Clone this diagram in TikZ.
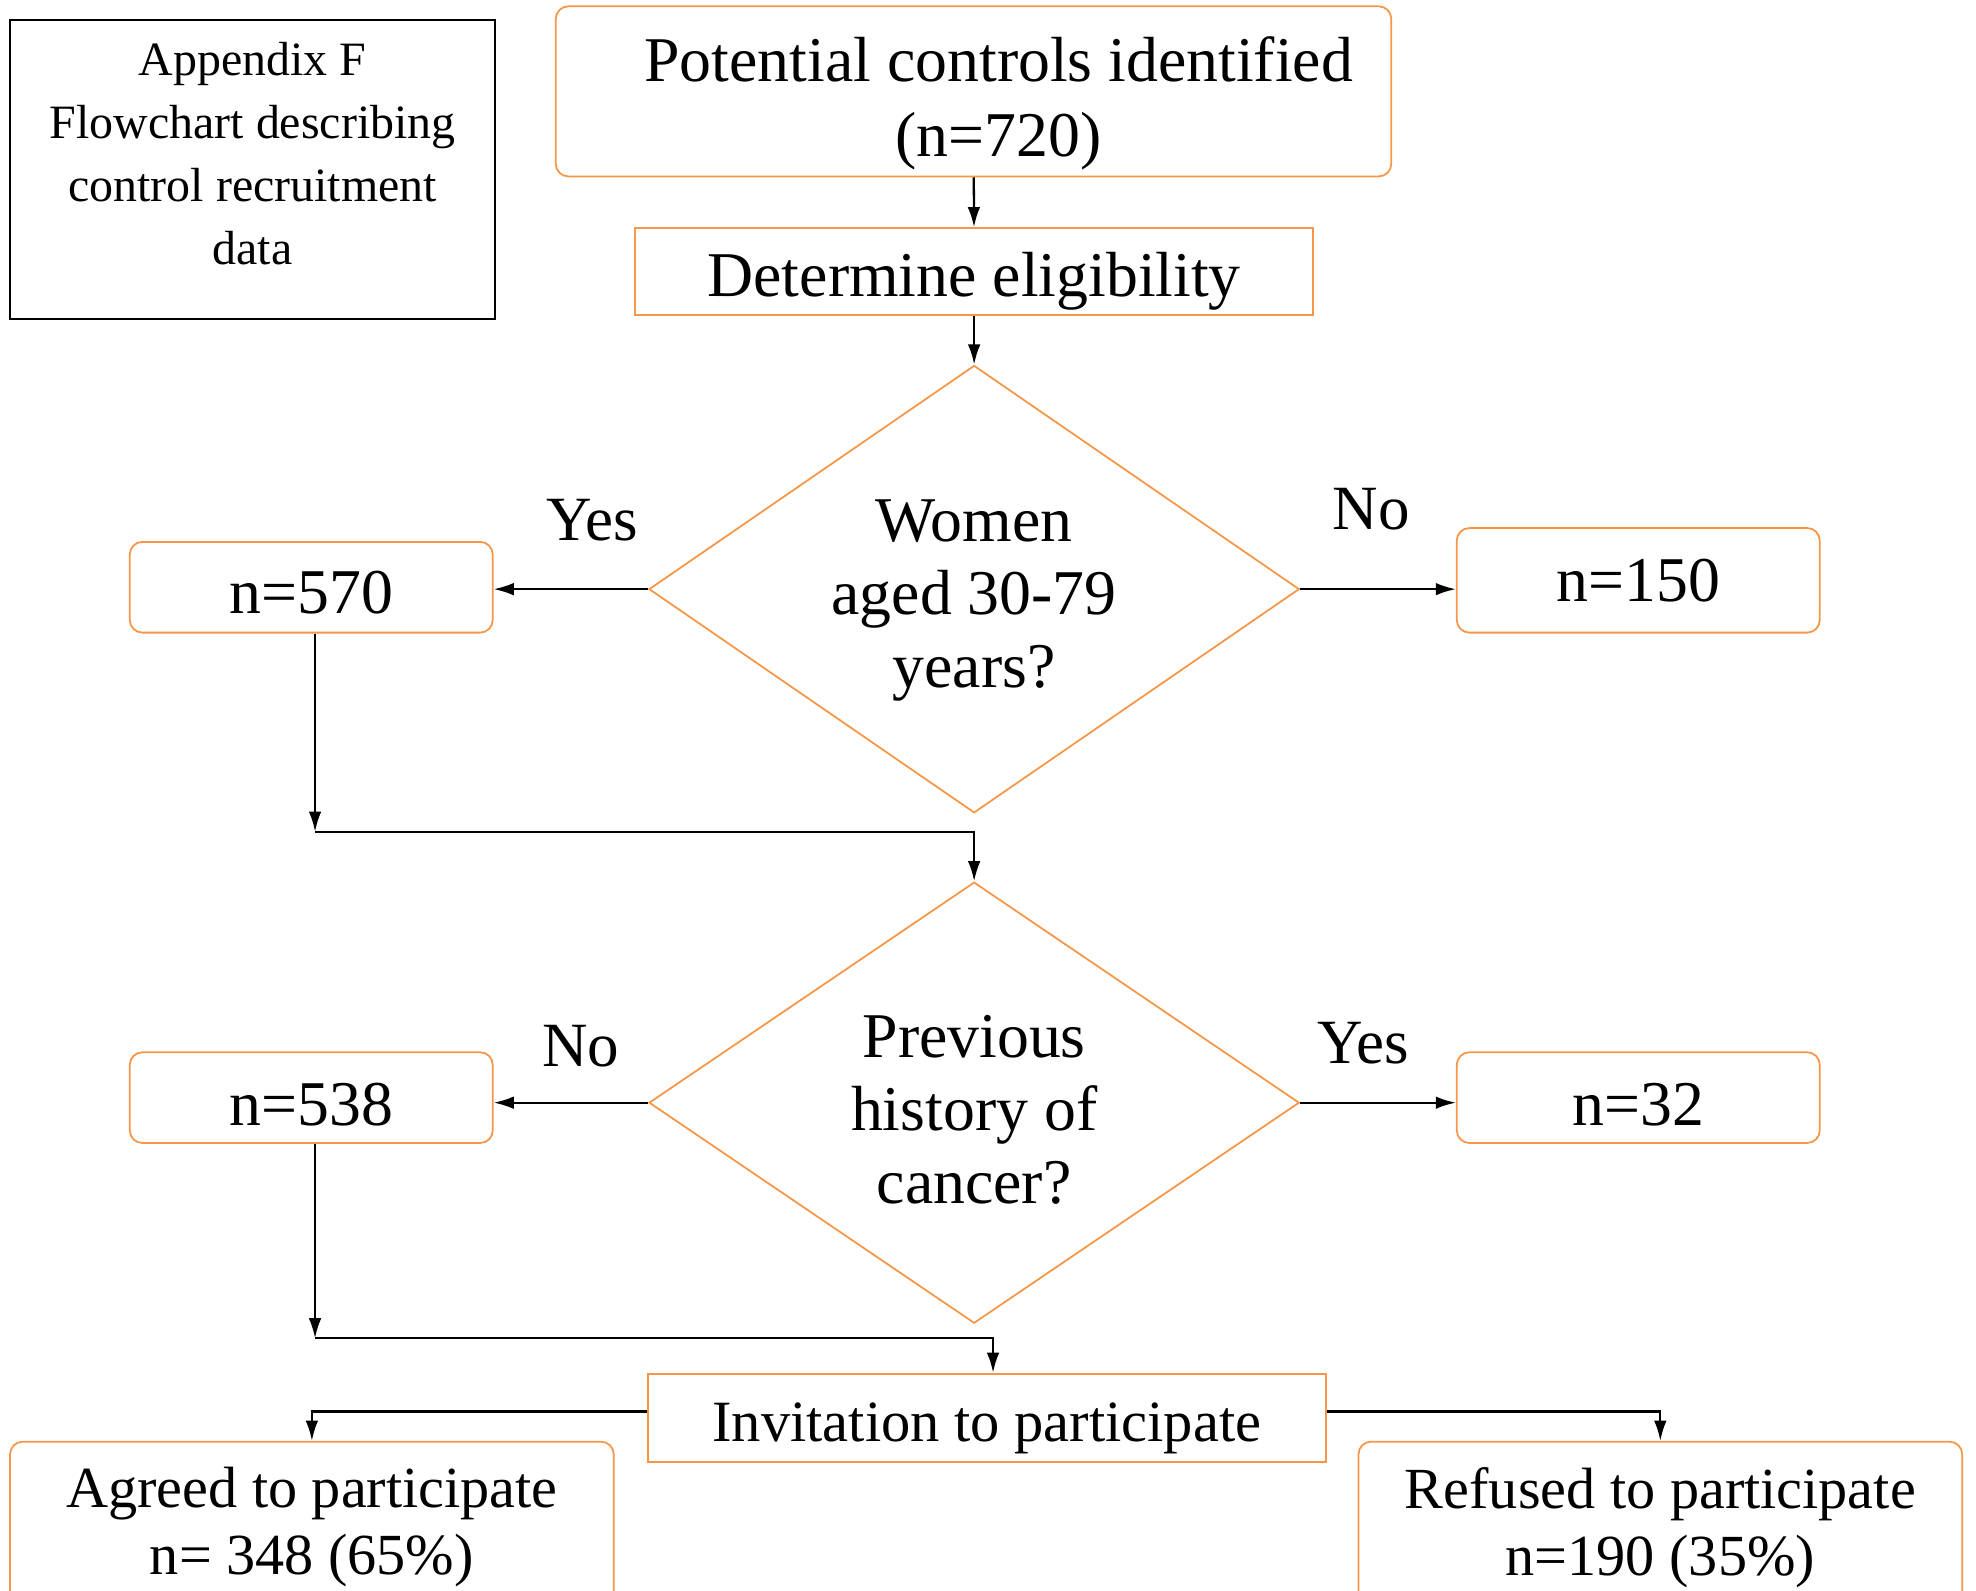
\documentclass[tikz,border=0pt]{standalone}
\usepackage{fontspec}
\setmainfont{Liberation Serif}
\usetikzlibrary{shapes.geometric, arrows.meta}
\definecolor{boxorange}{RGB}{247,150,70}

\begin{document}
\begin{tikzpicture}[x=0.5pt, y=-0.5pt,
    box/.style={draw=boxorange, line width=0.7pt, align=center, inner sep=0pt,
        font=\fontsize{25.3}{29.5}\selectfont},
    roundbox/.style={box, rounded corners=5pt},
    decision/.style={box, diamond, aspect=1.45, font=\fontsize{25.3}{29}\selectfont},
    answer/.style={font=\fontsize{25}{30}\selectfont},
    arr/.style={-{Latex[length=8pt, width=5pt]}, line width=0.9pt}]
    \useasboundingbox (0,0) rectangle (1568,1262);

    \node[draw, line width=0.8pt, minimum width=192.5pt, minimum height=118.5pt, align=center,
        font=\fontsize{19}{25}\selectfont] (appx) at (200.5,134.5)
        {Appendix F\\Flowchart describing\\control recruitment\\data\rule[-13pt]{0pt}{13pt}};

    \node[roundbox, minimum width=331.5pt, minimum height=67.5pt] (pot) at (772.5,72.5)
        {\hspace*{20pt}\rule{0pt}{27.3pt}Potential controls identified\\\hspace*{20pt}(n=720)};
    \node[box, minimum width=269pt, minimum height=34.5pt, text height=25.3pt, text depth=5.5pt]
        (elig) at (773,215.5) {Determine eligibility};
    \node[decision, minimum width=258pt, minimum height=177.5pt] (women) at (773,467.5)
        {\rule{0pt}{25.7pt}Women\\aged 30-79\\years?};
    \node[roundbox, minimum width=144pt, minimum height=36pt, text height=21.1pt, text depth=0pt]
        (n570) at (247,466) {n=570};
    \node[roundbox, minimum width=144pt, minimum height=41.5pt] (n150) at (1300,460.5) {n=150};
    \node[answer] (yes1) at (470,413) {Yes};
    \node[answer] (no1) at (1088,404) {No};

    \node[decision, minimum width=258pt, minimum height=175pt] (cancer) at (773,875)
        {\rule{0pt}{22.7pt}Previous\\history of\\cancer?};
    \node[roundbox, minimum width=144pt, minimum height=36pt, text height=22.1pt, text depth=0pt]
        (n538) at (247,871) {n=538};
    \node[roundbox, minimum width=144pt, minimum height=36pt, text height=22.1pt, text depth=0pt]
        (n32) at (1300,871) {n=32};
    \node[answer] (no2) at (461,830) {No};
    \node[answer] (yes2) at (1082,828) {Yes};

    \node[box, minimum width=269pt, minimum height=35pt, text height=23.8pt, text depth=5pt,
        font=\fontsize{23.2}{27}\selectfont] (invite) at (783,1125) {Invitation to participate};
    \node[roundbox, minimum width=239.5pt, minimum height=68pt, font=\fontsize{23.1}{26.5}\selectfont]
        (agreed) at (247.5,1212) {Agreed to participate\\n= 348 (65\%)};
    \node[roundbox, minimum width=239.5pt, minimum height=68pt, font=\fontsize{23.1}{26.5}\selectfont]
        (refused) at (1317.5,1212) {Refused to participate\\n=190 (35\%)};

    \coordinate (j1) at (250,660);
    \coordinate (j2) at (250,1062);

    \draw[arr] (pot) -- (elig);
    \draw[arr] (elig) -- (women);
    \draw[arr] (women.west) -- (n570.east |- women.west);
    \draw[arr] (women.east) -- (n150.west |- women.east);
    \draw[arr] (n570.south -| j1) -- (j1);
    \draw[arr] (j1) -| (cancer.north);
    \draw[arr] (cancer.west) -- (n538.east |- cancer.west);
    \draw[arr] (cancer.east) -- (n32.west |- cancer.east);
    \draw[arr] (n538.south -| j2) -- (j2);
    \draw[arr] (j2) -| ([xshift=2.5pt]invite.north);
    \draw[arr] ([yshift=2.5pt]invite.west) -| (agreed.north);
    \draw[arr] ([yshift=2.5pt]invite.east) -| (refused.north);
\end{tikzpicture}
\end{document}
